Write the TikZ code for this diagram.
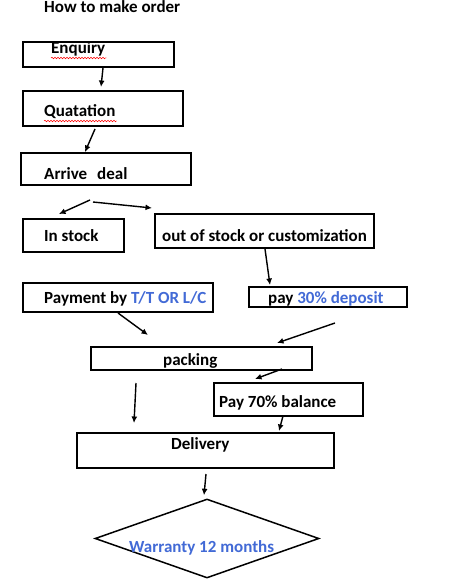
\documentclass[tikz,border=0pt]{standalone}
\usepackage{fontspec}
\setmainfont{Carlito}
\usetikzlibrary{arrows.meta,calc,shapes.geometric,decorations.pathmorphing}
\definecolor{wblue}{RGB}{66,106,214}
\begin{document}
\begin{tikzpicture}[x=1pt,y=-1pt,
  box/.style={draw, line width=1.8pt, inner sep=0pt, outer sep=0pt, anchor=north west},
  txt/.style={font=\bfseries\fontsize{17}{20}\selectfont, inner sep=0pt, anchor=base west},
  arr/.style={-{Latex[length=6.5pt,width=6pt]}, line width=1.4pt},
  wavy/.style={draw=red, line width=0.5pt, decorate, decoration={snake, amplitude=0.8pt, segment length=3pt}}]
\useasboundingbox[fill=white] (0,0) rectangle (466,580);

\node[txt] (title) at (44,13) {How to make order};

\node[box, minimum width=151pt, minimum height=25pt] (enq) at (23,42) {};
\node[txt] (enqt) at (51,54) {Enquiry};
\node[box, minimum width=160pt, minimum height=35pt] (quo) at (23,91) {};
\node[txt] (quot) at (44,117) {Quatation};
\node[box, minimum width=170pt, minimum height=32pt] (arrd) at (21,153) {};
\node[txt] (arrt) at (44,179) {Arrive\hspace{10pt}deal};
\node[box, minimum width=101pt, minimum height=33pt] (ins) at (23,219) {};
\node[txt] (inst) at (44,241) {In stock};
\node[box, minimum width=219pt, minimum height=34pt] (oos) at (155,214) {};
\node[txt] (oost) at (162,241) {out of stock or customization};
\node[box, minimum width=190pt, minimum height=29pt] (pay) at (23,283) {};
\node[txt] (payt) at (44,303) {Payment by \textcolor{wblue}{T/T OR L/C}};
\node[box, minimum width=158pt, minimum height=20pt] (dep) at (249,287) {};
\node[txt] (dept) at (268,303) {pay \textcolor{wblue}{30\% deposit}};
\node[box, minimum width=221pt, minimum height=23pt] (pack) at (91,347) {};
\node[txt] (packt) at (163,365) {packing};
\node[box, minimum width=149pt, minimum height=33pt] (p70) at (214,383) {};
\node[txt] (p70t) at (219,407) {Pay 70\% balance};
\node[box, minimum width=257pt, minimum height=35pt] (del) at (77,433) {};
\node[txt] (delt) at (171,449) {Delivery};
\node[draw, diamond, line width=1.5pt, inner sep=0pt, minimum width=224pt, minimum height=79pt] (war) at (207,538.5) {};
\node[txt, text=wblue] (wart) at (129,552) {Warranty 12 months};

\draw[wavy] ($(enqt.base west)+(0,4)$) -- ($(enqt.base east)+(1,4)$);
\draw[wavy] ($(quot.base west)+(0,4)$) -- ($(quot.base east)+(1,4)$);

\draw[arr] ($(enq.south west)+(80,1)$) -- ($(quo.north west)+(78,-4)$);
\draw[arr] ($(quo.south west)+(72,3)$) -- ($(arrd.north west)+(64,-1)$);
\draw[arr] ($(arrd.south west)+(69,15)$) -- ($(ins.north west)+(36,-5)$);
\draw[arr] ($(arrd.south west)+(72,17)$) -- ($(oos.north west)+(-3,-6)$);
\draw[arr] ($(oos.south west)+(110,1)$) -- ($(dep.north west)+(21,-2)$);
\draw[arr] ($(pay.south west)+(95,1)$) -- ($(pack.north west)+(57,-12)$);
\draw[arr] ($(dep.south west)+(86,16)$) -- ($(pack.north west)+(186,-4)$);
\draw[arr] ($(pack.south west)+(191,-1)$) -- ($(p70.north west)+(41,-4)$);
\draw[arr] ($(pack.south west)+(45,13)$) -- ($(del.north west)+(57,-10)$);
\draw[arr] ($(p70.south west)+(69,0)$) -- ($(del.north west)+(202,-2)$);
\draw[arr] ($(del.south west)+(129,6)$) -- ($(war.north)+(-3,-3)$);
\end{tikzpicture}
\end{document}
